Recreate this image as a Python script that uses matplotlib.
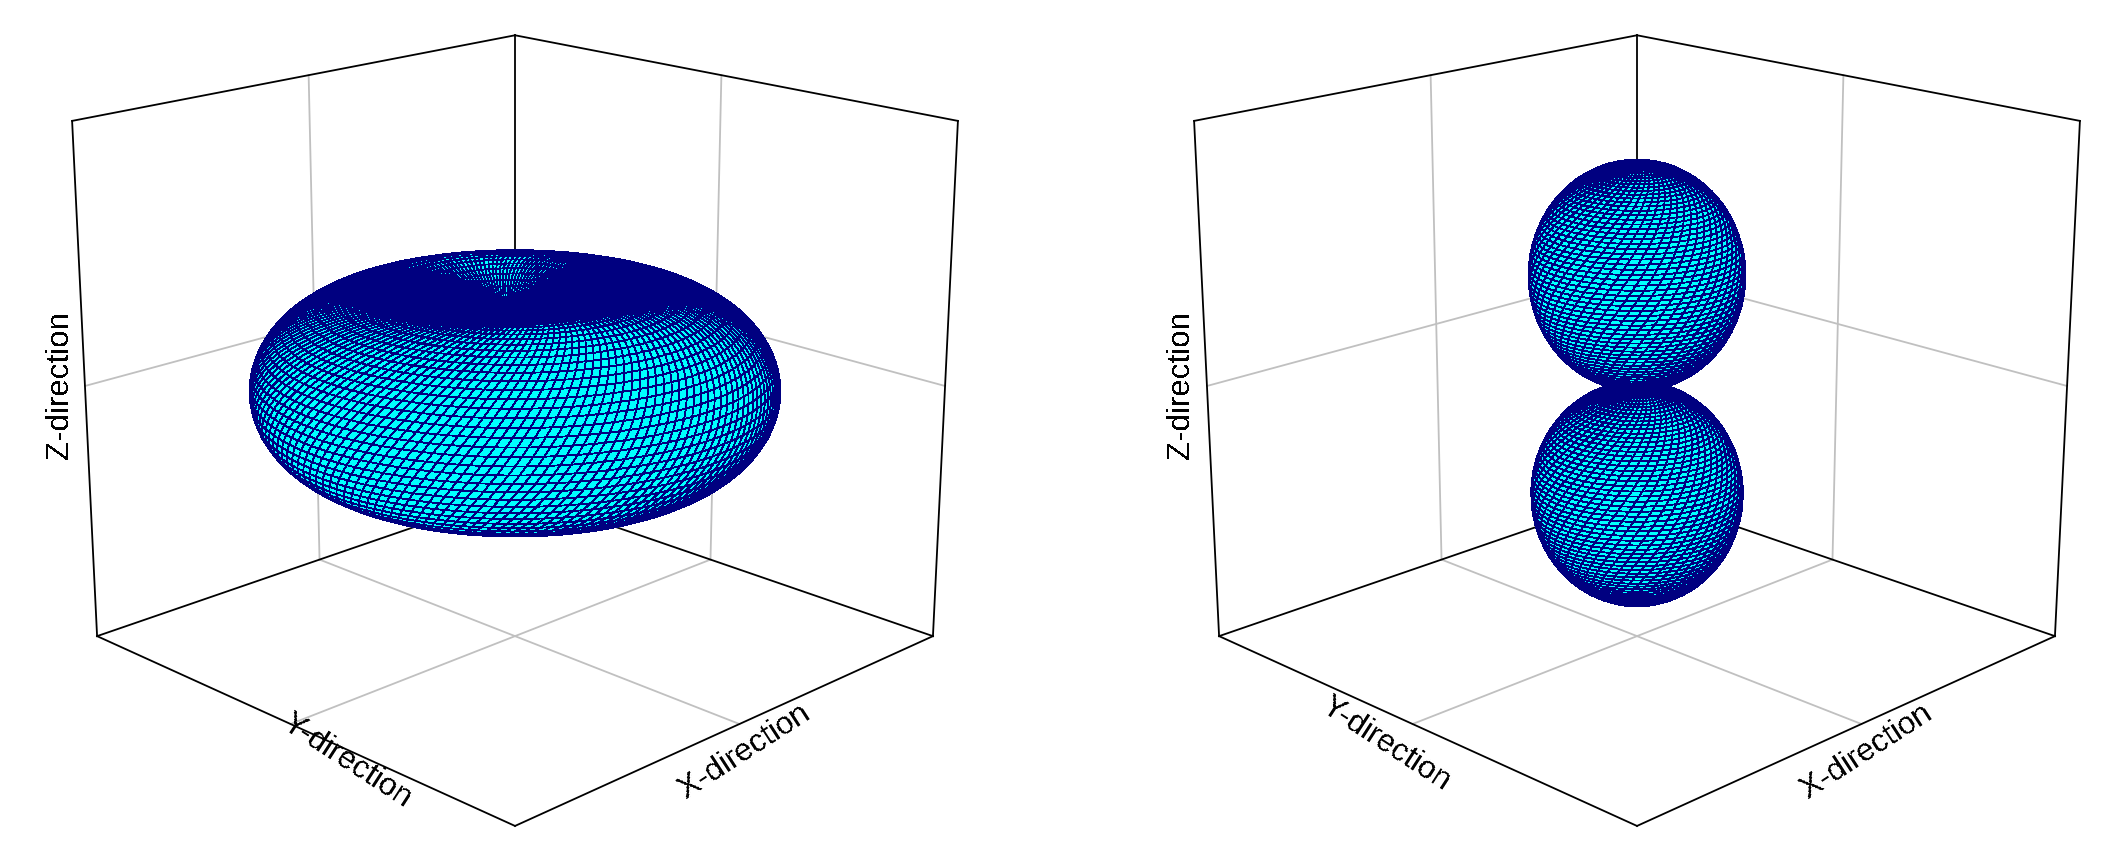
import numpy as np
import matplotlib
matplotlib.use("Agg")
import matplotlib.pyplot as plt

plt.rcParams['font.family'] = ['Liberation Sans', 'DejaVu Sans']
plt.rcParams['text.antialiased'] = False

# radius of the pattern read every 1.25 degrees, pole to equator
quarter = [
    0.000, 0.022, 0.044, 0.065, 0.087, 0.109, 0.131, 0.152, 0.174, 0.195,
    0.216, 0.238, 0.259, 0.280, 0.301, 0.321, 0.342, 0.362, 0.383, 0.403,
    0.423, 0.442, 0.462, 0.481, 0.500, 0.519, 0.537, 0.556, 0.574, 0.591,
    0.609, 0.626, 0.643, 0.659, 0.676, 0.692, 0.707, 0.722, 0.737, 0.752,
    0.766, 0.780, 0.793, 0.806, 0.819, 0.831, 0.843, 0.855, 0.866, 0.877,
    0.887, 0.897, 0.906, 0.915, 0.924, 0.932, 0.940, 0.947, 0.954, 0.960,
    0.966, 0.971, 0.976, 0.981, 0.985, 0.988, 0.991, 0.994, 0.996, 0.998,
    0.999, 1.000, 1.000,
]
pattern_left = quarter + quarter[-2::-1]
pattern_right = quarter[::-1] + quarter[1:]

x_label = 'X-direction'
y_label = 'Y-direction'
z_label = 'Z-direction'

# figure size in pixels
W, H = 2120, 855
# side of the square 3d axes in pixels
SIDE = 1111


def draw_box(ax, a, c):
    # wall grid first, grey, then the black frame
    grid = [
        ([0, 0], [-a, a], [-c, -c]), ([-a, a], [0, 0], [-c, -c]),
        ([-a, -a], [0, 0], [-c, c]), ([-a, -a], [-a, a], [0, 0]),
        ([0, 0], [-a, -a], [-c, c]), ([-a, a], [-a, -a], [0, 0]),
    ]
    for xs, ys, zs in grid:
        ax.plot(xs, ys, zs, color='#c0c0c0', lw=1.3, zorder=1)
    frame = [
        ([-a, a], [-a, -a], [-c, -c]), ([-a, -a], [-a, a], [-c, -c]),
        ([a, a], [-a, a], [-c, -c]), ([-a, a], [a, a], [-c, -c]),
        ([-a, -a], [-a, -a], [-c, c]), ([a, a], [-a, -a], [-c, c]),
        ([-a, -a], [a, a], [-c, c]),
        ([-a, a], [-a, -a], [c, c]), ([-a, -a], [-a, a], [c, c]),
    ]
    for xs, ys, zs in frame:
        ax.plot(xs, ys, zs, color='black', lw=1.3, zorder=2)


def draw_pattern(ax, radius, ring_step, n_around, twist):
    radius = np.array(radius)[::ring_step]
    theta = np.linspace(0, np.pi, len(radius))
    phi = np.linspace(0, 2 * np.pi, n_around + 1)
    T, P = np.meshgrid(theta, phi, indexing='ij')
    # the mesh of the original winds around the axis
    P = P - twist * (phi[1] - phi[0]) * np.arange(len(theta))[:, None]
    R = radius[:, None]
    X = R * np.sin(T) * np.cos(P)
    Y = R * np.sin(T) * np.sin(P)
    Z = R * np.cos(T)
    ax.plot_surface(X, Y, Z, rstride=1, cstride=1, color='#00ffff',
                    edgecolor='#000080', linewidth=0.6, shade=False,
                    antialiased=False, zorder=3)


def make_panel(fig, center_x, center_y, a, c):
    ax = fig.add_axes([(center_x - SIDE / 2) / W, (center_y - SIDE / 2) / H,
                       SIDE / W, SIDE / H], projection='3d',
                      computed_zorder=False)
    ax.set_proj_type('persp', focal_length=0.48)
    ax.view_init(elev=18, azim=45)
    ax.set_box_aspect((1, 1, 0.89), zoom=0.888)
    ax.set_xlim(-a, a)
    ax.set_ylim(-a, a)
    ax.set_zlim(-c, c)
    ax.set_axis_off()
    ax.patch.set_alpha(0)
    draw_box(ax, a, c)
    return ax


def put_label(fig, s, x, y, rot):
    fig.text(x / W, 1 - y / H, s, fontsize=22.5, rotation=rot, ha='center',
             va='center', rotation_mode='anchor', color='black')


fig = plt.figure(figsize=(W / 100, H / 100), dpi=100)
ax_left = make_panel(fig, 500, 454, 1.15, 1.38)
draw_pattern(ax_left, pattern_left, 2, 160, 0.6)
ax_right = make_panel(fig, 1622, 454, 1.42, 1.18)
draw_pattern(ax_right, pattern_right, 1, 60, 0.3)

put_label(fig, z_label, 60, 385, 90)
put_label(fig, y_label, 347, 761, -33)
put_label(fig, x_label, 745, 752, 33)
put_label(fig, z_label, 1181, 385, 90)
put_label(fig, y_label, 1386, 744, -33)
put_label(fig, x_label, 1867, 752, 33)

fig.savefig('out.png', dpi=100, facecolor='white')
